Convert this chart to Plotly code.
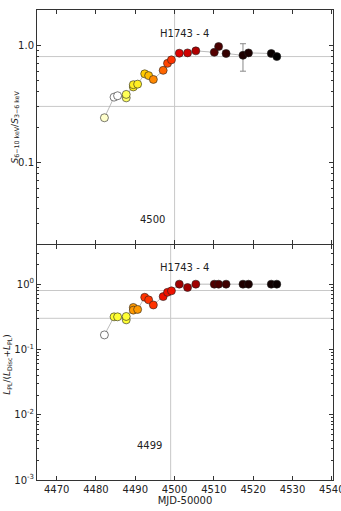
import plotly.graph_objects as go
from plotly.subplots import make_subplots

# MJD-50000 of each observation
mjd = [4482.15, 4484.6, 4485.5, 4487.7, 4487.7, 4489.5, 4489.5, 4490.6,
       4492.4, 4493.4, 4494.6, 4497.1, 4498.2, 4499.2, 4501.2, 4503.3,
       4505.4, 4510.1, 4511.2, 4513.1, 4517.4, 4518.8, 4524.6, 4526.0]

# hardness ratio S(6-10 keV)/S(3-6 keV)
hard = [0.24, 0.36, 0.37, 0.355, 0.38, 0.44, 0.46, 0.465, 0.57, 0.55, 0.51, 0.61,
        0.70, 0.75, 0.855, 0.86, 0.895, 0.87, 0.975, 0.85, 0.82, 0.86, 0.85, 0.80]
hard_err_hi = [0]*20 + [0.21, 0, 0, 0]
hard_err_lo = [0]*20 + [0.22, 0, 0, 0]

# power-law fraction L_PL/(L_Disc+L_PL)
plfrac = [0.167, 0.316, 0.316, 0.284, 0.32, 0.44, 0.40, 0.41, 0.63, 0.575, 0.48, 0.645,
          0.75, 0.79, 1.0, 0.89, 1.0, 1.0, 1.0, 1.0, 1.0, 1.0, 1.0, 1.0]

col_top = ['#ffffcc', '#ffffff', '#ffffff', '#ffff66', '#ffff55', '#ffee22', '#ffee22', '#ffee22',
           '#ffcc00', '#ffbb00', '#ff8800', '#ff6600', '#ff4400', '#ff3300', '#dd0000', '#d00000',
           '#b00000', '#550000', '#4a0000', '#350000', '#1e0000', '#1c0000', '#080000', '#000000']
col_bot = ['#ffffff', '#ffff33', '#ffff33', '#ffff33', '#ffff33', '#ff9900', '#ff9900', '#ff9900',
           '#ff3300', '#ff3300', '#ff3300', '#ee1100', '#ee1100', '#ee1100', '#a00000', '#a00000',
           '#a00000', '#500000', '#4a0000', '#400000', '#200000', '#1c0000', '#100000', '#0a0000']

hlines = [0.8, 0.3]
vline_top, vline_bot = 4500, 4499

fig = make_subplots(rows=2, cols=1, shared_xaxes=True, vertical_spacing=0.0)

fig.add_trace(go.Scatter(x=mjd, y=hard, mode='lines+markers',
                         line=dict(color='#aaaaaa', width=0.8),
                         marker=dict(size=8, color=col_top, line=dict(color='#222', width=0.6)),
                         error_y=dict(type='data', symmetric=False, array=hard_err_hi,
                                      arrayminus=hard_err_lo, color='#888', thickness=1, width=3)),
              row=1, col=1)
fig.add_trace(go.Scatter(x=mjd, y=plfrac, mode='lines+markers',
                         line=dict(color='#aaaaaa', width=0.8),
                         marker=dict(size=8, color=col_bot, line=dict(color='#222', width=0.6))),
              row=2, col=1)

grid = dict(color='#c8c8c8', width=1)
for r, vx in [(1, vline_top), (2, vline_bot)]:
    for h in hlines:
        fig.add_hline(y=h, line=grid, row=r, col=1, layer='below')
    fig.add_vline(x=vx, line=grid, row=r, col=1, layer='below')

font = dict(family='DejaVu Sans', size=10, color='#222')
fig.add_annotation(x=4502.5, y=0.10, xref='x', yref='y', text='H1743 - 4', showarrow=False, font=font)
fig.add_annotation(x=4494.4, y=-1.49, xref='x', yref='y', text='4500', showarrow=False, font=font)
fig.add_annotation(x=4502.5, y=0.25, xref='x2', yref='y2', text='H1743 - 4', showarrow=False, font=font)
fig.add_annotation(x=4493.6, y=-2.47, xref='x2', yref='y2', text='4499', showarrow=False, font=font)

# y-axis titles as rotated annotations for exact placement
tfont = dict(family='DejaVu Sans', size=9, color='#222')
fig.add_annotation(x=-22 / 296, y=0.75, xref='paper', yref='paper', textangle=-90,
                   text='<i>S</i><sub>6−10 keV</sub>/<i>S</i><sub>3−6 keV</sub>',
                   showarrow=False, font=tfont, xanchor='center', yanchor='middle')
fig.add_annotation(x=-29 / 296, y=0.245, xref='paper', yref='paper', textangle=-90,
                   text='<i>L</i><sub>PL</sub>/(<i>L</i><sub>Disc</sub>+<i>L</i><sub>PL</sub>)',
                   showarrow=False, font=tfont, xanchor='center', yanchor='middle')

axis = dict(showline=True, linecolor='#333', linewidth=1, mirror='ticks', ticks='inside',
            ticklen=4, tickcolor='#333', showgrid=False, zeroline=False, tickfont=font,
            automargin=False, ticklabeloverflow='allow')
fig.update_xaxes(**axis, range=[4465, 4540.3], dtick=10, tick0=4470)
fig.update_xaxes(showticklabels=False, row=1, col=1)
fig.update_xaxes(title=dict(text='MJD-50000', font=font, standoff=0), row=2, col=1)

minor_top = [m * 10**e for e in (-2, -1) for m in range(2, 10)] + [2]
fig.update_yaxes(**axis, type='log', range=[-1.699, 0.301], tickvals=[0.1, 1.0],
                 ticktext=['0.1', '1.0'],
                 minor=dict(tickvals=minor_top, ticks='inside', ticklen=2, tickcolor='#333'),
                 row=1, col=1)
minor_bot = [m * 10**e for e in (-3, -2, -1, 0) for m in range(2, 10)]
fig.update_yaxes(**axis, type='log', range=[-3, 0.6], tickvals=[1e-3, 1e-2, 1e-1, 1],
                 ticktext=['10<sup>-3</sup>', '10<sup>-2</sup>', '10<sup>-1</sup>', '10<sup>0</sup>'],
                 minor=dict(tickvals=minor_bot, ticks='inside', ticklen=2, tickcolor='#333'),
                 row=2, col=1)

fig.update_layout(width=341, height=511, showlegend=False,
                  margin=dict(l=37, r=8, t=10, b=31),
                  paper_bgcolor='white', plot_bgcolor='white')
fig.update_layout(yaxis=dict(domain=[0.502, 1.0]), yaxis2=dict(domain=[0.0, 0.5]))

fig.write_html("out.html", config={'displayModeBar': False},
               post_script="document.body.style.margin='0';")
